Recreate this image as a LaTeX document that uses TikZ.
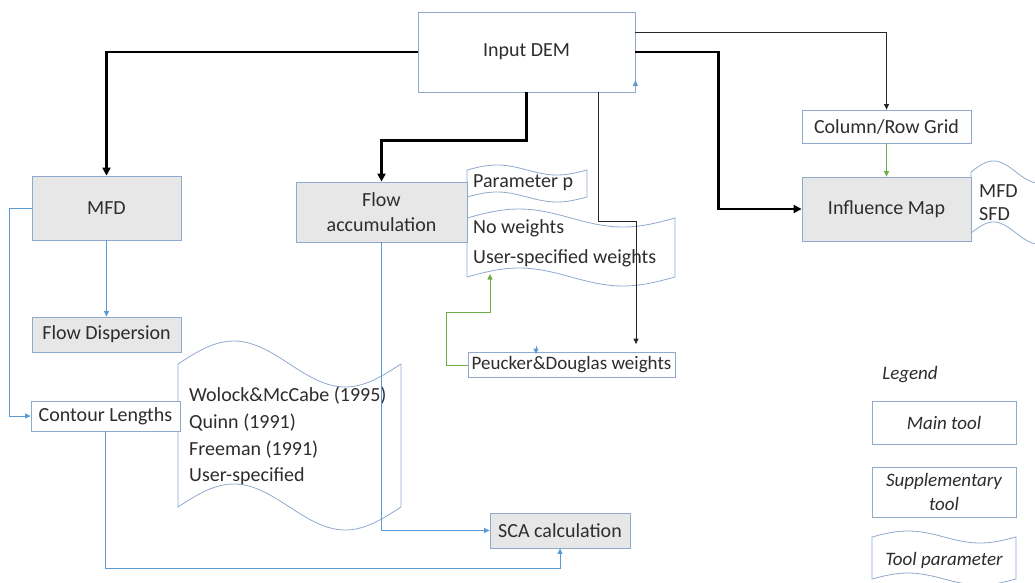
\documentclass[tikz,border=0pt]{standalone}
\usepackage{fontspec}
\setmainfont{Carlito}
\usetikzlibrary{arrows.meta}

\definecolor{edge}{RGB}{143,170,204}
\definecolor{mainfill}{RGB}{231,231,231}
\definecolor{ink}{RGB}{45,45,45}
\definecolor{flowblue}{RGB}{91,155,213}
\definecolor{flowgreen}{RGB}{112,173,71}

\tikzset{
  tool/.style={draw=edge, line width=0.8pt, fill=mainfill, text=ink, inner sep=0pt,
    align=center, font=\fontsize{20}{25}\selectfont},
  suptool/.style={tool, fill=white},
  txt/.style={text=ink, inner sep=0pt, align=left, font=\fontsize{20}{25}\selectfont},
  tapeline/.style={draw=edge, line width=0.8pt, fill=white},
  smalltip/.style={-{Triangle[length=5.5pt,width=5pt]}},
  bigtip/.style={-{Triangle[length=8pt,width=8pt]}},
  heavylink/.style={bigtip, line width=2.6pt, black},
  lightlink/.style={smalltip, line width=0.9pt, black!85},
  bluelink/.style={smalltip, line width=0.9pt, flowblue},
  greenlink/.style={smalltip, line width=0.9pt, flowgreen},
}

% punched-tape outline: left, right, top, bottom, wave amplitude
\newcommand\tapeshape[5]{%
  \filldraw[tapeline]
    plot[domain=0:1, samples=50, variable=\t] ({#1+\t*(#2-#1)},{#3-#5*sin(360*\t)})
    -- plot[domain=0:1, samples=50, variable=\t] ({#2-\t*(#2-#1)},{#4+#5*sin(360*\t)})
    -- cycle;}

\begin{document}
\begin{tikzpicture}[x=1pt,y=-1pt]
\useasboundingbox (0,0) rectangle (1035,583);

% parameter tapes
\tapeshape{467}{587}{170}{197}{5}
\tapeshape{467}{675}{218}{277}{9}
\tapeshape{178}{401}{364}{507}{23}
\begin{scope}
  \clip (0,0) rectangle (1035,583);
  \tapeshape{971}{1061}{172}{233}{11}
\end{scope}
\tapeshape{872}{1016}{537}{579}{6}

% tools
\node[suptool, minimum width=217pt, minimum height=80pt] (dem) at (526.5,52) {Input DEM};
\node[tool, minimum width=149pt, minimum height=64pt] (mfd) at (106.5,208) {MFD};
\node[tool, minimum width=149pt, minimum height=35pt] (disp) at (106.5,334.5) {Flow Dispersion};
\node[suptool, minimum width=149pt, minimum height=30pt] (contour) at (105.5,416) {Contour Lengths};
\node[tool, minimum width=171pt, minimum height=60pt] (flowacc) at (381.5,212) {Flow\\accumulation};
\node[suptool, minimum width=169pt, minimum height=33pt] (grid) at (886.5,126.5) {Column/Row Grid};
\node[tool, minimum width=169pt, minimum height=64pt] (infl) at (886.5,209) {Influence Map};
\node[suptool, font=\fontsize{19}{24}\selectfont, minimum width=207pt, minimum height=25pt] (peucker) at (571.5,365) {Peucker\&Douglas weights};
\node[tool, minimum width=140pt, minimum height=35pt] (sca) at (560,530.5) {SCA calculation};

% parameter texts
\node[txt, anchor=west] (parp) at (473,183) {Parameter p};
\node[txt, anchor=west, font=\fontsize{20}{30}\selectfont] (weights) at (473,243) {No weights\\User-specified weights};
\node[txt, anchor=west, font=\fontsize{20}{26.7}\selectfont] (methods) at (189,436)
  {Wolock\&McCabe (1995)\\Quinn (1991)\\Freeman (1991)\\User-specified};
\node[txt, anchor=west, font=\fontsize{20}{23}\selectfont] (dirs) at (979,203) {MFD\\SFD};

% legend
\node[txt, font=\fontsize{19}{23}\selectfont\itshape] (legtitle) at (910,375) {Legend};
\node[suptool, font=\fontsize{19}{24}\selectfont\itshape, minimum width=144pt, minimum height=43pt] (legmain) at (944,422.5) {Main tool};
\node[suptool, font=\fontsize{19}{24}\selectfont\itshape, minimum width=144pt, minimum height=50pt] (legsupp) at (944,492) {Supplementary\\tool};
\node[txt, font=\fontsize{19}{23}\selectfont\itshape] (legparam) at (944,560) {Tool parameter};

% connectors
\coordinate (wbot) at (490,274);
\draw[heavylink] (dem.west) -| (mfd.north);
\draw[heavylink] (dem.south) -- ++(0,48) -| (flowacc.north);
\draw[heavylink] (dem.east) -- ++(83,0) |- (infl.west);
\draw[lightlink] ([yshift=20pt]dem.east) -| (grid.north);
\draw[lightlink, shorten >=8pt] ([xshift=71.5pt]dem.south) -- ++(0,129) -- ++(38,0)
  -- ([xshift=64.5pt]peucker.north);
\draw[greenlink] (grid.south) -- (infl.north);
\draw[greenlink] (peucker.west) -- ++(-21,0) -- ++(0,-53) -| (wbot);
\draw[bluelink] (mfd.south) -- (disp.north);
\draw[bluelink] (mfd.west) -- ++(-22,0) |- (contour.west);
\draw[bluelink] (flowacc.south) |- (sca.west);
\draw[bluelink] (contour.south) -- ++(0,137) -| (sca.south);
\draw[bluelink] ([yshift=6pt]dem.south east) -- ([yshift=12pt]dem.south east);
\draw[bluelink] ([xshift=-35.5pt,yshift=6pt]peucker.north) -- ([xshift=-35.5pt,yshift=-2pt]peucker.north);
\end{tikzpicture}
\end{document}
